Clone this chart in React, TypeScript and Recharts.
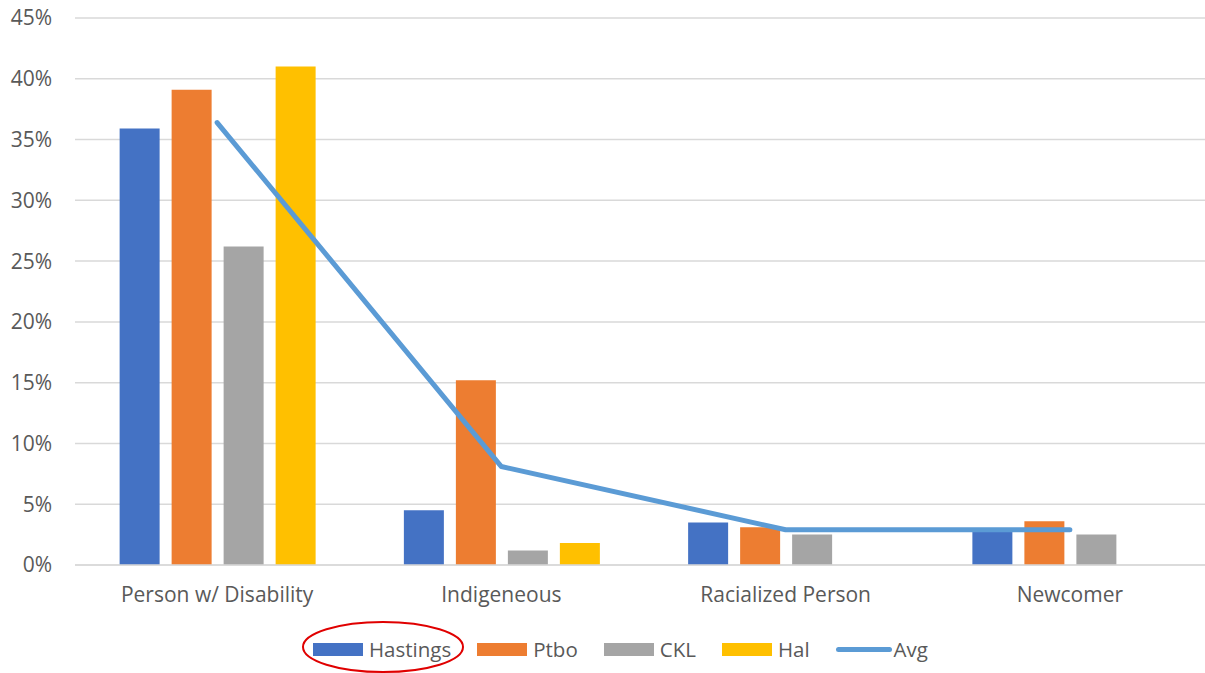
import React from 'react';
import {
  ComposedChart,
  Bar,
  Line,
  XAxis,
  YAxis,
  CartesianGrid,
} from 'recharts';

const categories = ['Person w/ Disability', 'Indigeneous', 'Racialized Person', 'Newcomer'];
const hastings = [35.9, 4.5, 3.5, 2.8];
const ptbo = [39.1, 15.2, 3.1, 3.6];
const ckl = [26.2, 1.2, 2.5, 2.5];
const hal = [41.0, 1.8, null, null];
const avg = [36.4, 8.1, 2.9, 2.9];
const yTicks = [0, 5, 10, 15, 20, 25, 30, 35, 40, 45];

const series = [
  { key: 'Hastings', color: '#4472C4', type: 'bar' },
  { key: 'Ptbo', color: '#ED7D31', type: 'bar' },
  { key: 'CKL', color: '#A5A5A5', type: 'bar' },
  { key: 'Hal', color: '#FFC000', type: 'bar' },
  { key: 'Avg', color: '#5B9BD5', type: 'line' },
];

const data = categories.map((name, i) => ({
  name,
  Hastings: hastings[i],
  Ptbo: ptbo[i],
  CKL: ckl[i],
  Hal: hal[i],
  Avg: avg[i],
}));

const FONT = '"Open Sans", sans-serif';
const TEXT = '#595959';
const FS = 21;

function ChartLegend() {
  return (
    <div
      style={{
        position: 'absolute',
        left: 313,
        top: 636,
        height: 26,
        display: 'flex',
        alignItems: 'center',
        fontFamily: FONT,
        fontSize: 20.5,
        color: TEXT,
        whiteSpace: 'nowrap',
      }}
    >
      {series.map((s) => (
        <div key={s.key} style={{ display: 'flex', alignItems: 'center', marginRight: 26 }}>
          {s.type === 'line' ? (
            <div style={{ width: 56, height: 5, background: s.color, borderRadius: 3 }} />
          ) : (
            <div style={{ width: 50, height: 13, background: s.color }} />
          )}
          <span style={{ marginLeft: s.type === 'line' ? 2 : 6 }}>{s.key}</span>
        </div>
      ))}
    </div>
  );
}

export default function App() {
  return (
    <div style={{ position: 'relative', width: 1205, height: 673, overflow: 'hidden' }}>
      <style>{'body{margin:0}'}</style>
      {/* plot runs a little past the right edge, as in the original */}
      <ComposedChart
        width={1212}
        height={673}
        data={data}
        margin={{ top: 18, right: 0, bottom: 78, left: 0 }}
        barCategoryGap="15.7%"
        barGap={12}
      >
        <CartesianGrid vertical={false} stroke="#D9D9D9" strokeWidth={1.5} />
        <XAxis
          dataKey="name"
          height={30}
          axisLine={{ stroke: '#D9D9D9', strokeWidth: 1.5 }}
          tickLine={false}
          tickMargin={16}
          tick={{ fill: TEXT, fontSize: FS, fontFamily: FONT }}
        />
        <YAxis
          width={75}
          domain={[0, 45]}
          ticks={yTicks}
          axisLine={false}
          tickLine={false}
          tickMargin={17}
          tickFormatter={(v) => `${v}%`}
          tick={{ fill: TEXT, fontSize: FS, fontFamily: FONT }}
        />
        {series
          .filter((s) => s.type === 'bar')
          .map((s) => (
            <Bar key={s.key} dataKey={s.key} fill={s.color} isAnimationActive={false} />
          ))}
        <Line
          dataKey="Avg"
          type="linear"
          stroke="#5B9BD5"
          strokeWidth={5}
          strokeLinecap="round"
          strokeLinejoin="round"
          dot={false}
          activeDot={false}
          isAnimationActive={false}
        />
      </ComposedChart>
      <ChartLegend />
      <svg
        width={1205}
        height={673}
        style={{ position: 'absolute', left: 0, top: 0, pointerEvents: 'none' }}
      >
        <ellipse cx={383} cy={647} rx={80} ry={25} fill="none" stroke="#E00000" strokeWidth={2} />
      </svg>
    </div>
  );
}
